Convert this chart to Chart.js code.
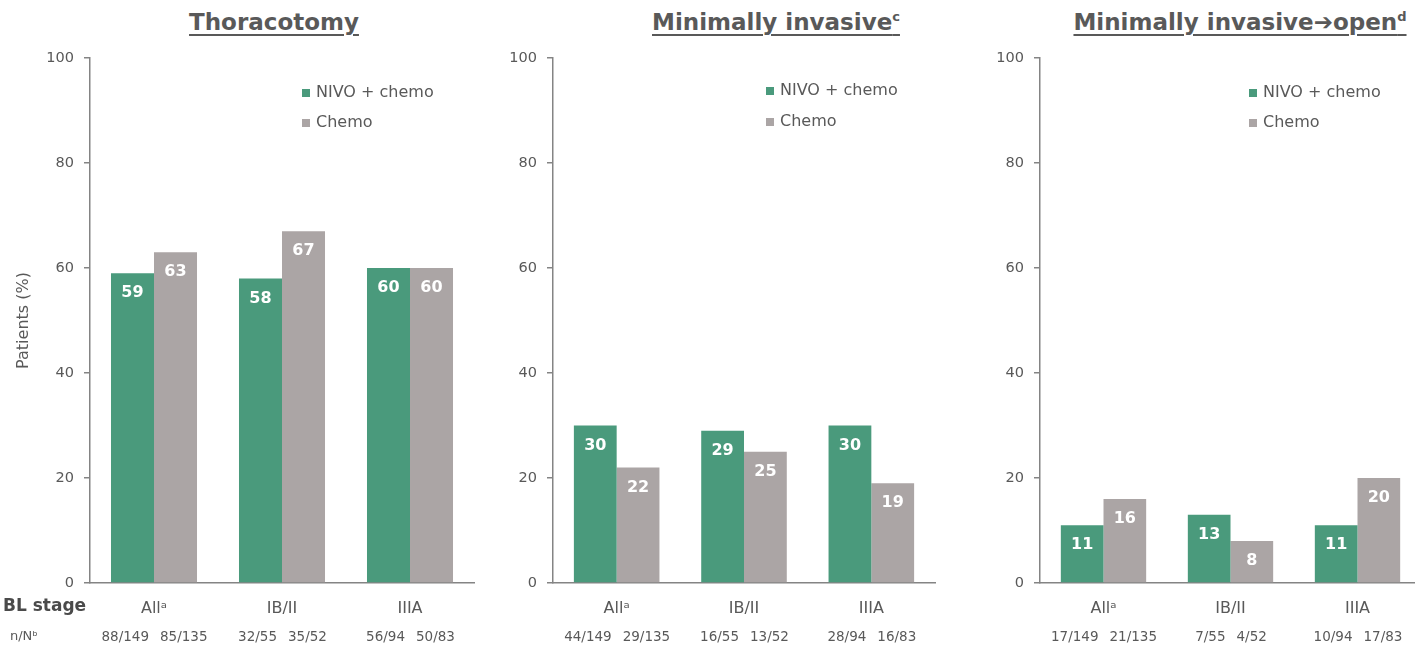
<!DOCTYPE html>
<html>
<head>
<meta charset="utf-8">
<script src="https://cdn.jsdelivr.net/npm/chart.js@4.4.1/dist/chart.umd.min.js"></script>
<style>
  html, body { margin: 0; padding: 0; background: #ffffff; }
  body { width: 1415px; height: 649px; overflow: hidden; position: relative; font-family: "DejaVu Sans", sans-serif; }
  .panel { position: absolute; top: 0; height: 649px; }
  .title {
    position: absolute; top: 7px; width: 600px; text-align: center;
    font: bold 23px "DejaVu Sans", sans-serif; color: #595959; line-height: 30px;
    text-decoration: underline; text-decoration-thickness: 2px; text-underline-offset: 4px;
    white-space: nowrap;
  }
  .title sup { font-size: 13px; vertical-align: 9px; line-height: 0; }
</style>
</head>
<body>
<div class="title" style="left:-26px">Thoracotomy</div>
<div class="title" style="left:476px">Minimally invasive<sup>c</sup></div>
<div class="title" style="left:940px">Minimally invasive➔open<sup>d</sup></div>

<div class="panel" style="left:0px;width:480px"><canvas id="c1" width="480" height="649"></canvas></div>
<div class="panel" style="left:480px;width:480px"><canvas id="c2" width="480" height="649"></canvas></div>
<div class="panel" style="left:960px;width:470px"><canvas id="c3" width="470" height="649"></canvas></div>

<script>
// Baseline stage categories
const categories = ['Allᵃ', 'IB/II', 'IIIA'];
const seriesNames = ['NIVO + chemo', 'Chemo'];

// Thoracotomy (%)
const thoracotomyNivo = [59, 58, 60];
const thoracotomyChemo = [63, 67, 60];
const thoracotomyNivoN = ['88/149', '32/55', '56/94'];
const thoracotomyChemoN = ['85/135', '35/52', '50/83'];

// Minimally invasive (%)
const minInvNivo = [30, 29, 30];
const minInvChemo = [22, 25, 19];
const minInvNivoN = ['44/149', '16/55', '28/94'];
const minInvChemoN = ['29/135', '13/52', '16/83'];

// Minimally invasive converted to open (%)
const convNivo = [11, 13, 11];
const convChemo = [16, 8, 20];
const convNivoN = ['17/149', '7/55', '10/94'];
const convChemoN = ['21/135', '4/52', '17/83'];

// Y axis ticks
const yMin = 0, yMax = 100, yStep = 20;

const GREEN = '#4a9a7c';
const GREY = '#aba5a5';
const AXIS = '#848484';
const TEXT = '#595959';
const FONT = '"DejaVu Sans", sans-serif';

// White value labels inside the top of each bar
const barValuePlugin = {
  id: 'barValues',
  afterDatasetsDraw(chart) {
    const ctx = chart.ctx;
    ctx.save();
    ctx.font = 'bold 16px ' + FONT;
    ctx.fillStyle = '#ffffff';
    ctx.textAlign = 'center';
    ctx.textBaseline = 'middle';
    chart.data.datasets.forEach((ds, i) => {
      chart.getDatasetMeta(i).data.forEach((bar, j) => {
        ctx.fillText(String(ds.data[j]), bar.x, bar.y + 20);
      });
    });
    ctx.restore();
  }
};

// Legend drawn inside the plot area
const innerLegendPlugin = {
  id: 'innerLegend',
  afterDraw(chart, args, opts) {
    const ctx = chart.ctx;
    const x = chart.chartArea.left + opts.dx;
    const rows = opts.rows;
    ctx.save();
    ctx.font = '16px ' + FONT;
    ctx.textBaseline = 'middle';
    ctx.textAlign = 'left';
    chart.data.datasets.forEach((ds, i) => {
      const y = rows[i];
      ctx.fillStyle = ds.backgroundColor;
      ctx.fillRect(x, y - 4, 8, 8);
      ctx.fillStyle = TEXT;
      ctx.fillText(ds.label, x + 14, y);
    });
    ctx.restore();
  }
};

// n/N counts under each category, plus the row headers
const countsPlugin = {
  id: 'counts',
  afterDraw(chart, args, opts) {
    const ctx = chart.ctx;
    const xs = chart.scales.x;
    ctx.save();
    ctx.font = '13.5px ' + FONT;
    ctx.fillStyle = TEXT;
    ctx.textBaseline = 'middle';
    categories.forEach((c, j) => {
      const cx = xs.getPixelForValue(j);
      ctx.textAlign = 'right';
      ctx.fillText(opts.nivoN[j], cx - 5, 637);
      ctx.textAlign = 'left';
      ctx.fillText(opts.chemoN[j], cx + 6, 637);
    });
    if (opts.rowHeaders) {
      ctx.textAlign = 'left';
      ctx.font = 'bold 17px ' + FONT;
      ctx.fillStyle = '#4a4a4a';
      ctx.fillText('BL stage', 3, 607);
      ctx.font = '13px ' + FONT;
      ctx.fillStyle = TEXT;
      ctx.fillText('n/Nᵇ', 10, 637);
    }
    ctx.restore();
  }
};

function makePanel(id, nivo, chemo, nivoN, chemoN, cfg) {
  return new Chart(document.getElementById(id), {
    type: 'bar',
    data: {
      labels: categories,
      datasets: [
        { label: seriesNames[0], data: nivo, backgroundColor: GREEN, borderWidth: 0 },
        { label: seriesNames[1], data: chemo, backgroundColor: GREY, borderWidth: 0 }
      ]
    },
    plugins: [barValuePlugin, innerLegendPlugin, countsPlugin],
    options: {
      responsive: false,
      animation: false,
      devicePixelRatio: 1,
      layout: { padding: { top: 58, right: cfg.padRight, bottom: 0, left: 0 } },
      datasets: { bar: { categoryPercentage: 0.672, barPercentage: 1 } },
      plugins: {
        legend: { display: false },
        tooltip: { enabled: false },
        innerLegend: { dx: cfg.legendDx, rows: cfg.legendRows },
        counts: { nivoN: nivoN, chemoN: chemoN, rowHeaders: cfg.rowHeaders }
      },
      scales: {
        x: {
          grid: { display: false },
          border: { display: true, color: AXIS, width: 1.5 },
          ticks: { color: TEXT, font: { family: FONT, size: 16 }, padding: 8, maxRotation: 0 },
          afterFit(scale) { scale.height = 66; }
        },
        y: {
          min: yMin, max: yMax,
          grid: { display: true, drawOnChartArea: false, drawTicks: true, tickLength: 6, color: AXIS, lineWidth: 1.5 },
          border: { display: true, color: AXIS, width: 1.5 },
          ticks: { stepSize: yStep, color: TEXT, font: { family: FONT, size: 14.5 }, padding: 10 },
          title: {
            display: cfg.yTitle,
            text: 'Patients (%)',
            color: TEXT,
            font: { family: FONT, size: 16 },
            padding: { top: 14, bottom: 0 }
          },
          afterFit(scale) { scale.width = cfg.yWidth; }
        }
      }
    }
  });
}

makePanel('c1', thoracotomyNivo, thoracotomyChemo, thoracotomyNivoN, thoracotomyChemoN,
  { yWidth: 90, padRight: 6, legendDx: 212, legendRows: [93, 123], rowHeaders: true, yTitle: true });
makePanel('c2', minInvNivo, minInvChemo, minInvNivoN, minInvChemoN,
  { yWidth: 73, padRight: 25, legendDx: 213, legendRows: [91, 122], rowHeaders: false, yTitle: false });
makePanel('c3', convNivo, convChemo, convNivoN, convChemoN,
  { yWidth: 80, padRight: 9, legendDx: 209, legendRows: [93, 123], rowHeaders: false, yTitle: false });
</script>
</body>
</html>
